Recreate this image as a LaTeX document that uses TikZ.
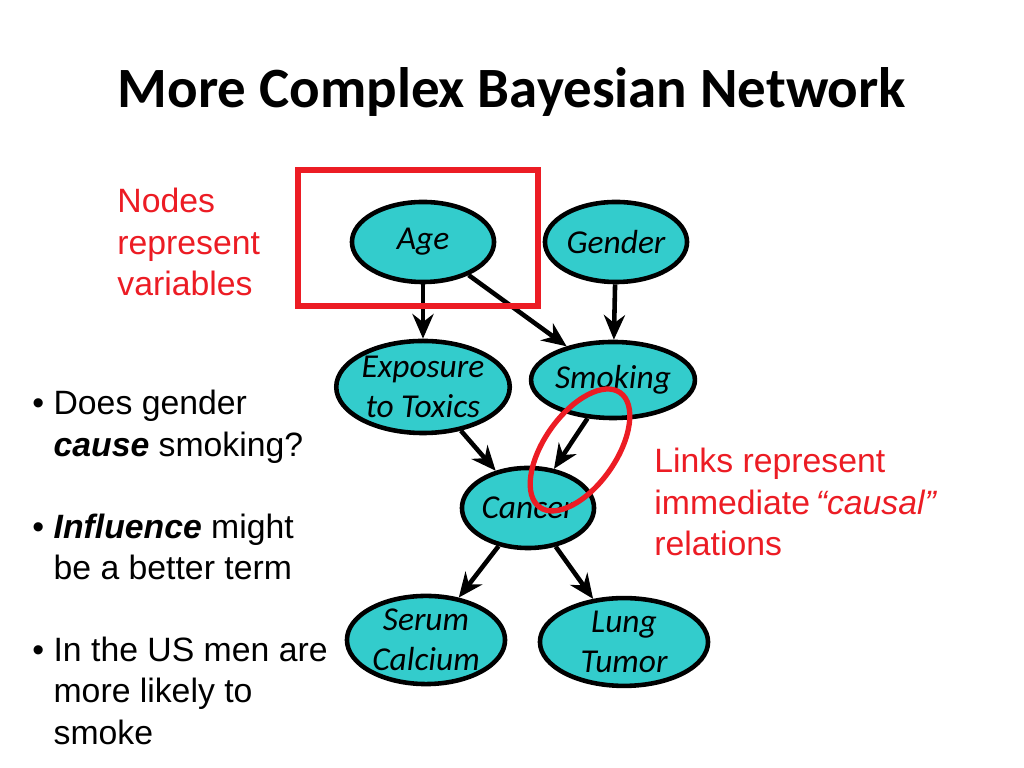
\documentclass[tikz,border=0pt]{standalone}
\usepackage{fontspec}
\setmainfont{Liberation Sans}
\newfontfamily\calib{Carlito}
\usetikzlibrary{shapes.geometric,arrows.meta}
\definecolor{nodecyan}{RGB}{51,204,204}
\definecolor{slidered}{RGB}{236,28,36}
\tikzset{>={Stealth[length=7pt,width=6pt]},
  var/.style={ellipse,draw=black,line width=1.3pt,fill=nodecyan,inner sep=0pt,
    font=\calib\itshape\fontsize{9.5}{11.5}\selectfont,align=center},
  link/.style={->,line width=1.3pt},
  note/.style={anchor=north west,align=left,font=\fontsize{9.6}{11.7}\selectfont}}
\newcommand{\ind}{\phantom{\textbullet\ }}
\begin{document}
\begin{tikzpicture}[x=0.01cm,y=-0.01cm]
            \useasboundingbox (0,0) rectangle (1024,768);
            \node[font=\calib\bfseries\fontsize{16.2}{18}\selectfont] (title) at (512,92) {More Complex Bayesian Network};
            \node[var,minimum width=1.42cm,minimum height=0.80cm] (age) at (423,242) {Age};
            \node[var,minimum width=1.42cm,minimum height=0.80cm] (gender) at (616,242) {Gender};
            \node[var,minimum width=1.50cm,minimum height=0.92cm] (expo) at (423,387) {Exposure\\to Toxics};
            \node[var,minimum width=1.42cm,minimum height=0.76cm] (smok) at (613,380) {Smoking};
            \node[var,minimum width=1.32cm,minimum height=0.80cm] (canc) at (528,508) {Cancer};
            \node[var,minimum width=1.58cm,minimum height=0.88cm] (serum) at (426,640) {Serum\\Calcium};
            \node[var,minimum width=1.68cm,minimum height=0.84cm] (lung) at (624,642) {Lung\\Tumor};
            \draw[link] (age) -- (expo);
            \draw[link] (age) -- (smok);
            \draw[link] (gender) -- (smok);
            \draw[link] (expo) -- (canc);
            \draw[link] (smok) -- (canc);
            \draw[link] (canc) -- (serum);
            \draw[link] (canc) -- (lung);
            % highlights
            \draw[slidered,line width=1.5pt] (298,170) rectangle (538,306);
            \draw[slidered,line width=1.5pt,rotate around={-35:(580,450)}] (580,450) ellipse (36 and 70);
            \node[note,text=slidered] (nodesnote) at (105,176) {Nodes\\represent\\variables};
            \node[note,text=slidered] (linksnote) at (642,436) {Links represent\\immediate\,\textit{“causal”}\\relations};
            \node[note] (bullets) at (20,378) {%
              \textbullet\ Does gender\\ \ind\textbf{\textit{cause}} smoking?\\[11.7pt]
              \textbullet\ \textbf{\textit{Influence}} might\\ \ind be a better term\\[11.7pt]
              \textbullet\ In the US men are\\ \ind more likely to\\ \ind smoke};
        \end{tikzpicture}
\end{document}
